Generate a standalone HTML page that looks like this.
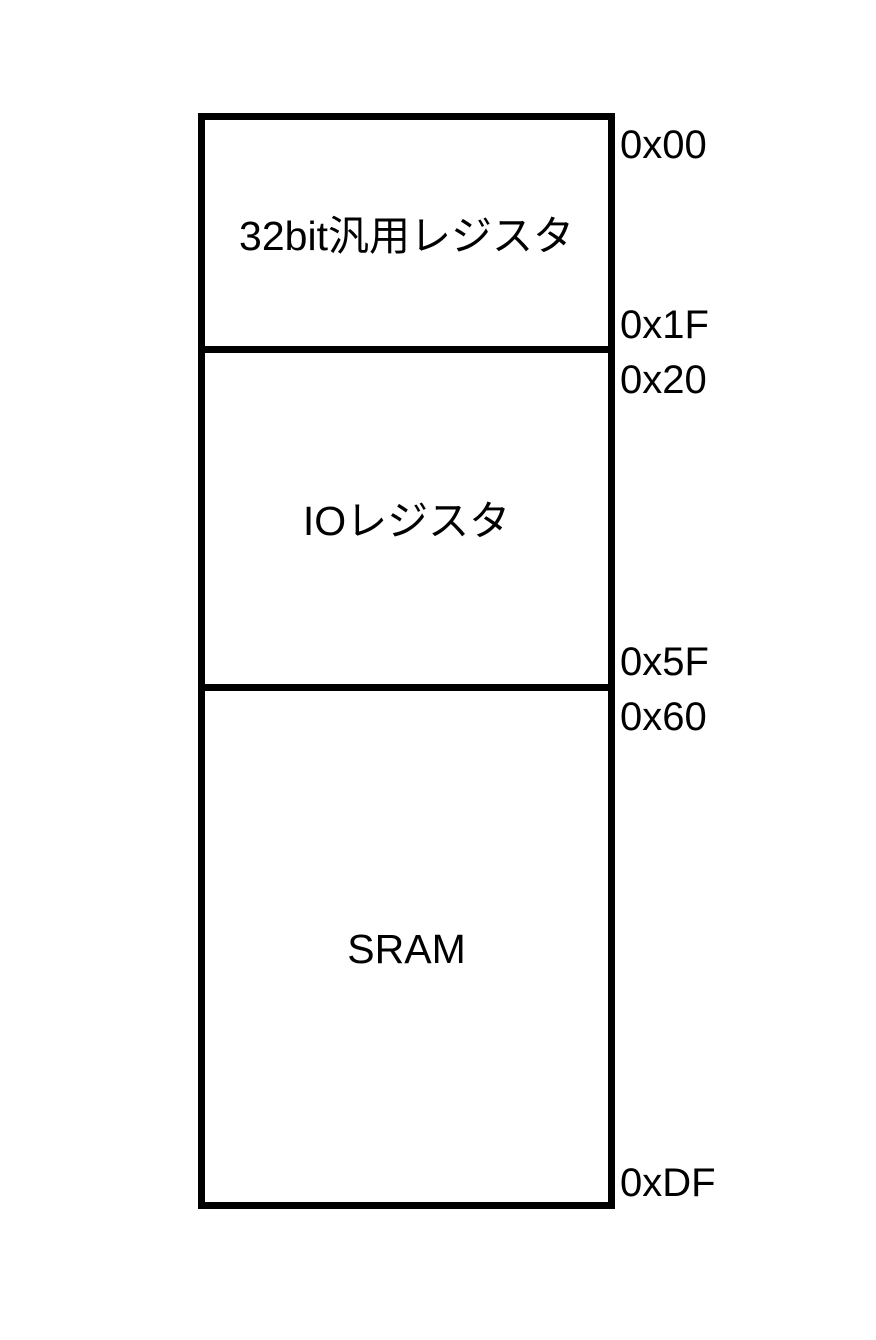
<!DOCTYPE html>
<html><head><meta charset="utf-8"><style>
html,body{margin:0;padding:0;background:#fff;}
body{width:876px;height:1340px;position:relative;overflow:hidden;font-family:"Liberation Sans","Noto Sans CJK JP",sans-serif;color:#000;}
.b{position:absolute;background:#000;}
.l{position:absolute;left:620px;font-size:40px;line-height:40px;}
.c{position:absolute;left:205px;width:403px;text-align:center;font-size:41px;line-height:44px;}
</style></head><body>
<div class="b" style="left:198px;top:113px;width:417px;height:7px"></div>
<div class="b" style="left:198px;top:1202px;width:417px;height:7px"></div>
<div class="b" style="left:198px;top:113px;width:7px;height:1096px"></div>
<div class="b" style="left:608px;top:113px;width:7px;height:1096px"></div>
<div class="b" style="left:198px;top:346px;width:417px;height:7px"></div>
<div class="b" style="left:198px;top:684px;width:417px;height:7px"></div>
<div class="c" style="top:214px">32bit汎用レジスタ</div>
<div class="c" style="top:499px">IOレジスタ</div>
<div class="c" style="top:927px">SRAM</div>
<div class="l" style="top:125px">0x00</div>
<div class="l" style="top:305px">0x1F</div>
<div class="l" style="top:360px">0x20</div>
<div class="l" style="top:642px">0x5F</div>
<div class="l" style="top:697px">0x60</div>
<div class="l" style="top:1163px">0xDF</div>
</body></html>
